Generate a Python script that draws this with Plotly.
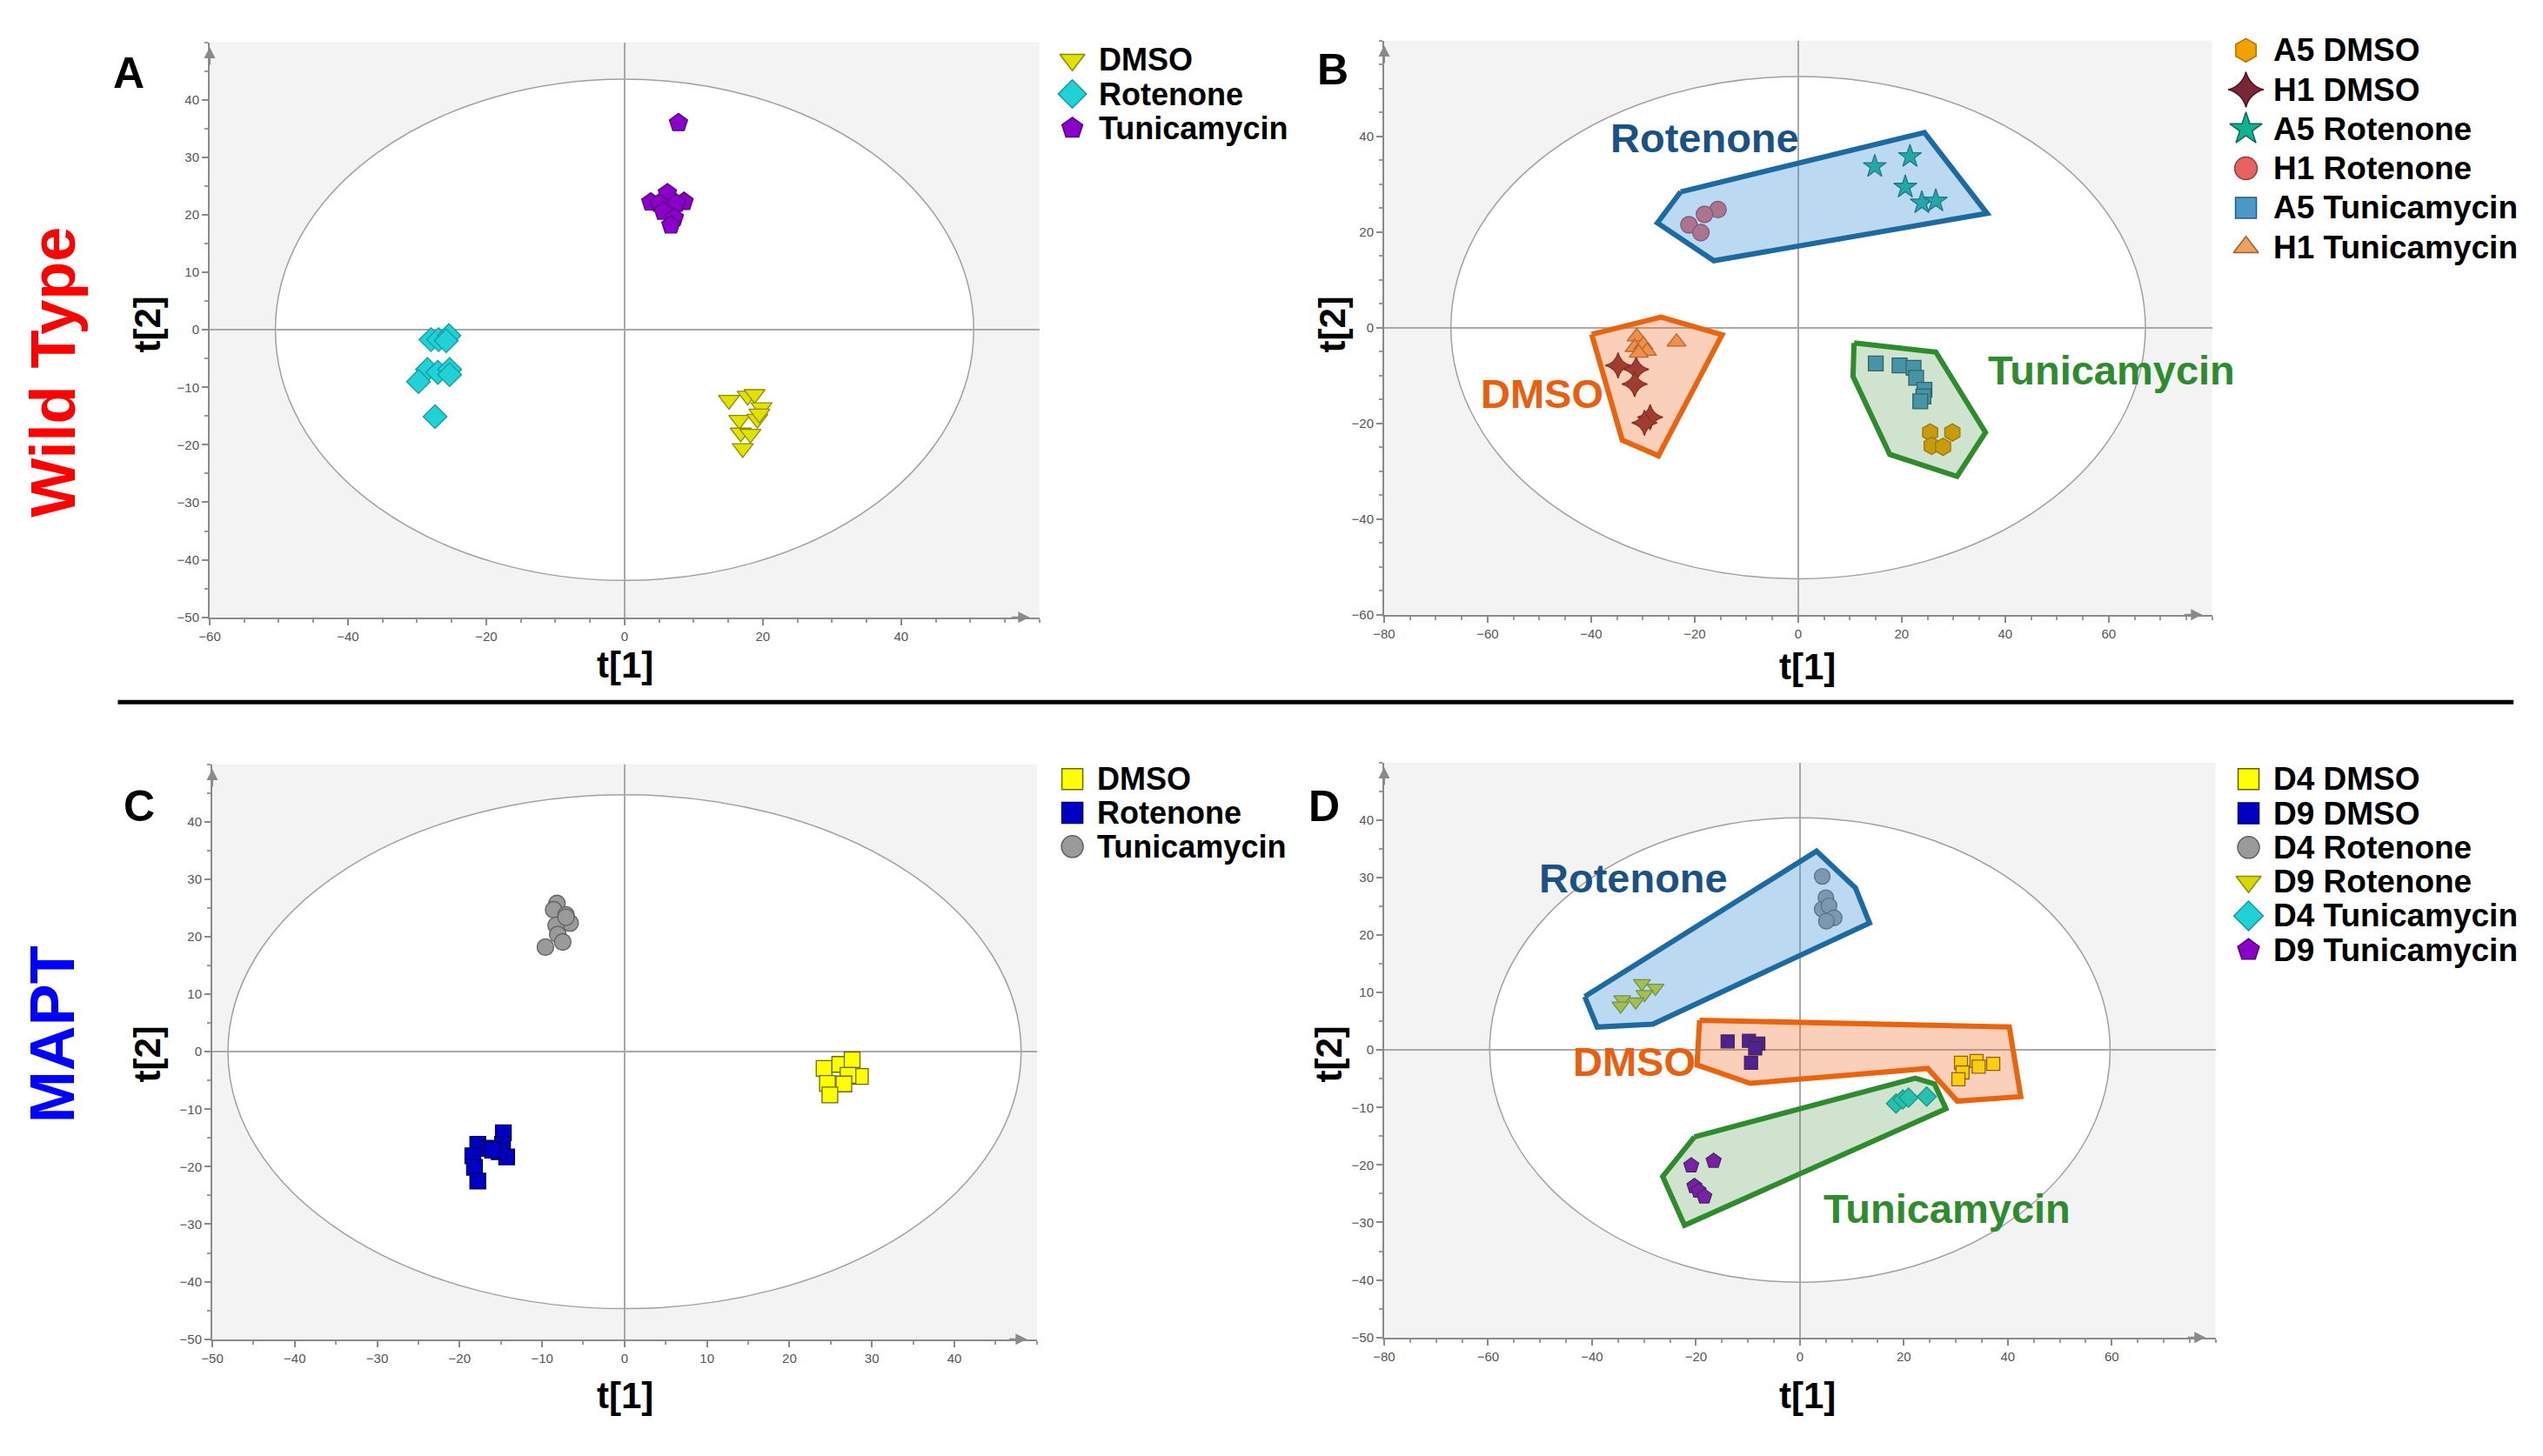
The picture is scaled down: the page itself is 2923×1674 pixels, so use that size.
import plotly.graph_objects as go

W, H = 2923, 1674
OX, OY = -20, -8          # compensation for page offset of the plot div
FONT = "Arial, Liberation Sans, sans-serif"


def fx(px):
    return (px + OX) / W


def fy(py):
    return 1 - (py + OY) / H


# ---------------- Panel A (Wild Type, by treatment) ----------------
a_dmso_x = [15.1, 17.8, 18.8, 19.8, 16.6, 19.2, 19.5, 16.8, 18.2, 17.1]
a_dmso_y = [-12.2, -11.5, -11.2, -13.5, -15.7, -15.5, -14.6, -17.9, -18.1, -20.6]
a_rot_x = [-28.0, -26.9, -25.4, -25.8, -28.5, -27.0, -25.3, -25.3, -29.8, -27.4]
a_rot_y = [-1.7, -1.7, -1.0, -1.9, -6.9, -7.4, -6.9, -7.8, -9.0, -15.1]
a_tun_x = [7.8, 6.2, 3.8, 5.0, 8.6, 7.5, 5.6, 7.2, 6.7]
a_tun_y = [36.0, 23.8, 22.2, 22.0, 22.3, 22.0, 20.6, 19.5, 18.2]

# ---------------- Panel B (Wild Type, by line) ----------------
b_a5dmso_x = [25.5, 29.8, 25.8, 28.0]
b_a5dmso_y = [-21.9, -21.9, -24.7, -24.9]
b_h1dmso_x = [-34.8, -31.3, -31.6, -28.6, -29.7]
b_h1dmso_y = [-7.9, -8.7, -11.8, -18.7, -19.9]
b_a5rot_x = [14.8, 21.6, 20.7, 23.9, 26.6]
b_a5rot_y = [33.7, 35.8, 29.4, 26.1, 26.5]
b_h1rot_x = [-15.5, -18.1, -21.1, -18.8]
b_h1rot_y = [24.7, 23.7, 21.5, 19.9]
b_a5tun_x = [15.0, 19.6, 22.3, 22.8, 24.4, 24.2, 23.6]
b_a5tun_y = [-7.5, -7.9, -8.4, -10.5, -13.0, -14.4, -15.4]
b_h1tun_x = [-31.2, -23.5, -31.6, -29.9, -29.2, -30.8]
b_h1tun_y = [-1.9, -3.0, -4.1, -3.6, -4.9, -5.3]

b_poly_rot_x = [-22.7, 24.4, 36.5, -16.3, -27.2]
b_poly_rot_y = [28.4, 40.8, 23.9, 14.0, 21.9]
b_poly_dmso_x = [-39.9, -26.5, -14.7, -27.0, -34.0]
b_poly_dmso_y = [-1.4, 2.2, -1.5, -26.8, -23.5]
b_poly_tun_x = [10.8, 26.6, 36.2, 30.7, 17.7, 10.6]
b_poly_tun_y = [-3.2, -5.1, -21.9, -31.1, -26.5, -10.2]

# ---------------- Panel C (MAPT, by treatment) ----------------
c_dmso_x = [24.2, 26.1, 27.6, 28.6, 27.1, 24.6, 26.6, 24.9]
c_dmso_y = [-2.9, -2.2, -1.4, -4.3, -4.1, -5.5, -5.6, -7.5]
c_rot_x = [-14.7, -14.8, -17.8, -16.5, -14.3, -18.4, -18.2, -17.8, -15.2, -16.0]
c_rot_y = [-14.1, -16.1, -16.1, -16.8, -18.3, -18.1, -20.1, -22.5, -17.4, -17.1]
c_tun_x = [-8.2, -8.6, -7.1, -6.6, -8.3, -8.1, -7.5, -9.6, -7.1]
c_tun_y = [25.8, 24.7, 23.8, 22.4, 22.0, 20.4, 19.1, 18.2, 23.4]

# ---------------- Panel D (MAPT, by line) ----------------
d_d4dmso_x = [31.0, 34.0, 37.2, 34.4, 31.3, 30.5]
d_d4dmso_y = [-2.2, -1.9, -2.4, -2.9, -3.9, -5.1]
d_d9dmso_x = [-13.9, -9.8, -8.0, -8.6, -9.4]
d_d9dmso_y = [1.5, 1.6, 1.1, 0.3, -2.2]
d_d4rot_x = [4.3, 5.0, 4.3, 5.6, 6.6, 5.1]
d_d4rot_y = [30.2, 26.5, 24.5, 25.1, 23.0, 22.4]
d_d9rot_x = [-30.4, -27.8, -29.9, -31.6, -34.2, -34.5]
d_d9rot_y = [11.6, 10.8, 9.7, 8.4, 8.8, 7.7]
d_d4tun_x = [18.5, 19.8, 20.9, 24.4]
d_d4tun_y = [-9.3, -8.6, -8.3, -8.1]
d_d9tun_x = [-20.9, -16.6, -20.3, -19.5, -18.4]
d_d9tun_y = [-20.1, -19.3, -23.7, -24.5, -25.5]

d_poly_rot_x = [-41.4, 3.2, 10.7, 13.4, -28.3, -39.0]
d_poly_rot_y = [9.3, 34.6, 28.2, 22.1, 4.5, 4.0]
d_poly_dmso_x = [-19.3, 40.3, 42.5, 30.3, 24.6, -9.6, -19.8]
d_poly_dmso_y = [5.2, 4.0, -8.1, -8.9, -3.2, -5.8, -2.6]
d_poly_tun_x = [-20.3, 22.2, 25.9, 28.1, -22.2, -26.4]
d_poly_tun_y = [-15.1, -4.9, -5.9, -10.2, -30.5, -22.0]

# axis settings per panel: ranges, tick values, ellipse half-axes
ranges = {
    "A": dict(x=[-60, 60], y=[-50, 50], xt=[-60, -40, -20, 0, 20, 40],
              yt=[-50, -40, -30, -20, -10, 0, 10, 20, 30, 40], ell=(50.5, 43.6)),
    "B": dict(x=[-80, 80], y=[-60, 60], xt=[-80, -60, -40, -20, 0, 20, 40, 60],
              yt=[-60, -40, -20, 0, 20, 40], ell=(67.1, 52.5)),
    "C": dict(x=[-50, 50], y=[-50, 50], xt=[-50, -40, -30, -20, -10, 0, 10, 20, 30, 40],
              yt=[-50, -40, -30, -20, -10, 0, 10, 20, 30, 40], ell=(48.1, 44.7)),
    "D": dict(x=[-80, 80], y=[-50, 50], xt=[-80, -60, -40, -20, 0, 20, 40, 60],
              yt=[-50, -40, -30, -20, -10, 0, 10, 20, 30, 40], ell=(59.7, 40.4)),
}

# plot-area edges in pixels (left, right, top, bottom)
boxes = {"A": (241, 1199, 49, 713), "B": (1597, 2553, 47, 710),
         "C": (244, 1196, 883, 1547), "D": (1597, 2557, 881, 1545)}
domains = {p: dict(x=[fx(b[0]), fx(b[1])], y=[fy(b[3]), fy(b[2])]) for p, b in boxes.items()}
axis_ids = {"A": ("x", "y"), "B": ("x2", "y2"), "C": ("x3", "y3"), "D": ("x4", "y4")}

fig = go.Figure()
legend_items = {"A": [], "B": [], "C": [], "D": []}


def add_markers(panel, name, xs, ys, symbol, color, line_color, size, leg_size):
    xa, ya = axis_ids[panel]
    fig.add_trace(go.Scatter(
        x=xs, y=ys, mode="markers", name=name, xaxis=xa, yaxis=ya, showlegend=False,
        marker=dict(symbol=symbol, color=color, size=size,
                    line=dict(color=line_color, width=1.3)),
    ))
    legend_items[panel].append((name, symbol, color, line_color, leg_size))


def add_poly(panel, xs, ys, line_color, fill_color):
    xa, ya = axis_ids[panel]
    fig.add_trace(go.Scatter(
        x=list(xs) + [xs[0]], y=list(ys) + [ys[0]], mode="lines",
        fill="toself", fillcolor=fill_color,
        line=dict(color=line_color, width=6), xaxis=xa, yaxis=ya,
        showlegend=False, hoverinfo="skip",
    ))


# Panel A
add_markers("A", "DMSO", a_dmso_x, a_dmso_y, "triangle-down", "#E2E200", "#8C8C00", 21, 25)
add_markers("A", "Rotenone", a_rot_x, a_rot_y, "diamond", "#20D2D6", "#119A9E", 21, 25)
add_markers("A", "Tunicamycin", a_tun_x, a_tun_y, "pentagon", "#8B00C9", "#560080", 22, 25)

# Panel B
add_markers("B", "A5 DMSO", b_a5dmso_x, b_a5dmso_y, "hexagon", "#F2A100", "#B57400", 20, 27)
add_markers("B", "H1 DMSO", b_h1dmso_x, b_h1dmso_y, "star-diamond", "#7B2634", "#4A1520", 21, 29)
add_markers("B", "A5 Rotenone", b_a5rot_x, b_a5rot_y, "star", "#12B08F", "#0A6A55", 20, 28)
add_markers("B", "H1 Rotenone", b_h1rot_x, b_h1rot_y, "circle", "#E86262", "#9A3A3A", 19, 26)
add_markers("B", "A5 Tunicamycin", b_a5tun_x, b_a5tun_y, "square", "#4A98C8", "#2A5A7A", 17, 24)
add_markers("B", "H1 Tunicamycin", b_h1tun_x, b_h1tun_y, "triangle-up", "#EDA15E", "#9A6030", 19, 25)
add_poly("B", b_poly_rot_x, b_poly_rot_y, "#1C6AA0", "rgba(70,150,220,0.36)")
add_poly("B", b_poly_dmso_x, b_poly_dmso_y, "#E8640F", "rgba(240,110,40,0.32)")
add_poly("B", b_poly_tun_x, b_poly_tun_y, "#2E8B2E", "rgba(60,140,50,0.24)")

# Panel C
add_markers("C", "DMSO", c_dmso_x, c_dmso_y, "square", "#FFFF00", "#6B6B00", 18, 24)
add_markers("C", "Rotenone", c_rot_x, c_rot_y, "square", "#0000C4", "#000060", 18, 24)
add_markers("C", "Tunicamycin", c_tun_x, c_tun_y, "circle", "#9A9A9A", "#606060", 19, 25)

# Panel D
add_markers("D", "D4 DMSO", d_d4dmso_x, d_d4dmso_y, "square", "#FFFF00", "#6B5B00", 15, 24)
add_markers("D", "D9 DMSO", d_d9dmso_x, d_d9dmso_y, "square", "#0000C4", "#000060", 15, 24)
add_markers("D", "D4 Rotenone", d_d4rot_x, d_d4rot_y, "circle", "#9A9A9A", "#606060", 18, 25)
add_markers("D", "D9 Rotenone", d_d9rot_x, d_d9rot_y, "triangle-down", "#D8D800", "#8C8C00", 17, 25)
add_markers("D", "D4 Tunicamycin", d_d4tun_x, d_d4tun_y, "diamond", "#20D2D6", "#119A9E", 17, 26)
add_markers("D", "D9 Tunicamycin", d_d9tun_x, d_d9tun_y, "pentagon", "#8B00C9", "#560080", 18, 26)
add_poly("D", d_poly_rot_x, d_poly_rot_y, "#1C6AA0", "rgba(70,150,220,0.36)")
add_poly("D", d_poly_dmso_x, d_poly_dmso_y, "#E8640F", "rgba(240,110,40,0.32)")
add_poly("D", d_poly_tun_x, d_poly_tun_y, "#2E8B2E", "rgba(60,140,50,0.24)")

layout = dict(
    width=W, height=H, margin=dict(l=0, r=0, t=0, b=0),
    paper_bgcolor="white", plot_bgcolor="rgba(0,0,0,0)",
    font=dict(family=FONT, color="black"),
    shapes=[], annotations=[], showlegend=False,
)

tickfont = dict(family=FONT, size=15, color="#555555")
for p in "ABCD":
    xa, ya = axis_ids[p]
    r = ranges[p]
    d = domains[p]
    xkey = "xaxis" if xa == "x" else "xaxis" + xa[1:]
    ykey = "yaxis" if ya == "y" else "yaxis" + ya[1:]
    common = dict(
        showgrid=False, zeroline=True, zerolinecolor="#A8A8A8", zerolinewidth=2,
        showline=True, linecolor="#8A8A8A", linewidth=2,
        ticks="outside", ticklen=7, tickcolor="#8A8A8A", tickwidth=1.5,
        minor=dict(dtick=5, tick0=0, ticks="outside", ticklen=4, tickcolor="#9A9A9A"),
        tickfont=tickfont, fixedrange=True,
    )
    layout[xkey] = dict(domain=d["x"], anchor=ya, range=r["x"], tickvals=r["xt"], **common)
    layout[ykey] = dict(domain=d["y"], anchor=xa, range=r["y"], tickvals=r["yt"], **common)
    # grey panel background, then white score ellipse
    layout["shapes"].append(dict(
        type="rect", xref=xa + " domain", yref=ya + " domain", x0=0, x1=1, y0=0, y1=1,
        fillcolor="#F3F3F3", line=dict(width=0), layer="below",
    ))
    ex, ey = r["ell"]
    layout["shapes"].append(dict(
        type="circle", xref=xa, yref=ya, x0=-ex, x1=ex, y0=-ey, y1=ey,
        fillcolor="white", line=dict(color="#A0A0A0", width=1.5), layer="below",
    ))
    # axis arrows
    layout["annotations"].append(dict(
        x=r["x"][1] - 0.012 * (r["x"][1] - r["x"][0]), y=r["y"][0], xref=xa, yref=ya,
        text="", showarrow=True, ax=-22, ay=0, arrowhead=2, arrowsize=1.3,
        arrowwidth=2, arrowcolor="#8A8A8A",
    ))
    layout["annotations"].append(dict(
        x=r["x"][0], y=r["y"][1] - 0.008 * (r["y"][1] - r["y"][0]), xref=xa, yref=ya,
        text="", showarrow=True, ax=0, ay=22, arrowhead=2, arrowsize=1.3,
        arrowwidth=2, arrowcolor="#8A8A8A",
    ))

# full-page hidden axes used to place legend symbols in pixel units
layout["xaxis5"] = dict(domain=[0, 1], range=[0, W], visible=False, fixedrange=True, anchor="y5")
layout["yaxis5"] = dict(domain=[0, 1], range=[H, 0], visible=False, fixedrange=True, anchor="x5")

ann = layout["annotations"]

# ---------- custom legends (large symbols, bold text) ----------
# (marker centre x px, text start x px, first row centre y px, row step px, font size)
legend_geom = {"A": (1237, 1266, 69, 39.5, 36), "B": (2592, 2622, 58, 45.5, 37),
               "C": (1237, 1264, 900, 39.0, 36), "D": (2595, 2622, 900, 39.5, 37)}
for p, items in legend_items.items():
    mx, tx, y0, step, fs = legend_geom[p]
    for i, (name, symbol, color, lc, ls) in enumerate(items):
        py = y0 + i * step
        fig.add_trace(go.Scatter(
            x=[mx + OX], y=[py + OY], mode="markers", xaxis="x5", yaxis="y5",
            showlegend=False, hoverinfo="skip",
            marker=dict(symbol=symbol, color=color, size=ls, line=dict(color=lc, width=1.5)),
        ))
        ann.append(dict(text="<b>%s</b>" % name, x=fx(tx), y=fy(py), xref="paper", yref="paper",
                        showarrow=False, xanchor="left", yanchor="middle",
                        font=dict(family=FONT, size=fs, color="black")))


def paper_text(text, px, py, size, color="black", angle=0):
    ann.append(dict(text="<b>%s</b>" % text, x=fx(px), y=fy(py), xref="paper", yref="paper",
                    showarrow=False, textangle=angle, xanchor="center", yanchor="middle",
                    font=dict(family=FONT, size=size, color=color)))


# panel letters
paper_text("A", 148, 84, 50)
paper_text("B", 1538, 80, 50)
paper_text("C", 160, 931, 50)
paper_text("D", 1528, 931, 50)

# axis titles
for (px, py) in [(721, 768), (2086, 770), (721, 1612), (2086, 1612)]:
    paper_text("t[1]", px, py, 42)
for (px, py) in [(169, 375), (1537, 375), (169, 1218), (1533, 1218)]:
    paper_text("t[2]", px, py, 42, angle=-90)

# row titles
paper_text("Wild Type", 60, 430, 72, color="#FF0000", angle=-90)
paper_text("MAPT", 60, 1195, 72, color="#0000FF", angle=-90)

# group labels in B and D
group_labels = [
    ("x2", "y2", "Rotenone", -18.0, 39.7, "#1C5283"),
    ("x2", "y2", "DMSO", -49.5, -13.8, "#E8600F"),
    ("x2", "y2", "Tunicamycin", 60.5, -8.9, "#2E8B2E"),
    ("x4", "y4", "Rotenone", -32.1, 29.9, "#1C5283"),
    ("x4", "y4", "DMSO", -31.8, -2.0, "#E8600F"),
    ("x4", "y4", "Tunicamycin", 28.3, -27.6, "#2E8B2E"),
]
for xa, ya, t, gx, gy, col in group_labels:
    ann.append(dict(text="<b>%s</b>" % t, x=gx, y=gy, xref=xa, yref=ya, showarrow=False,
                    xanchor="center", yanchor="middle",
                    font=dict(family=FONT, size=47, color=col)))

# divider line
layout["shapes"].append(dict(type="line", xref="paper", yref="paper",
                             x0=fx(135), x1=fx(2901), y0=fy(811), y1=fy(811),
                             line=dict(color="black", width=5)))

fig.update_layout(**layout)
fig.write_html("out.html")
